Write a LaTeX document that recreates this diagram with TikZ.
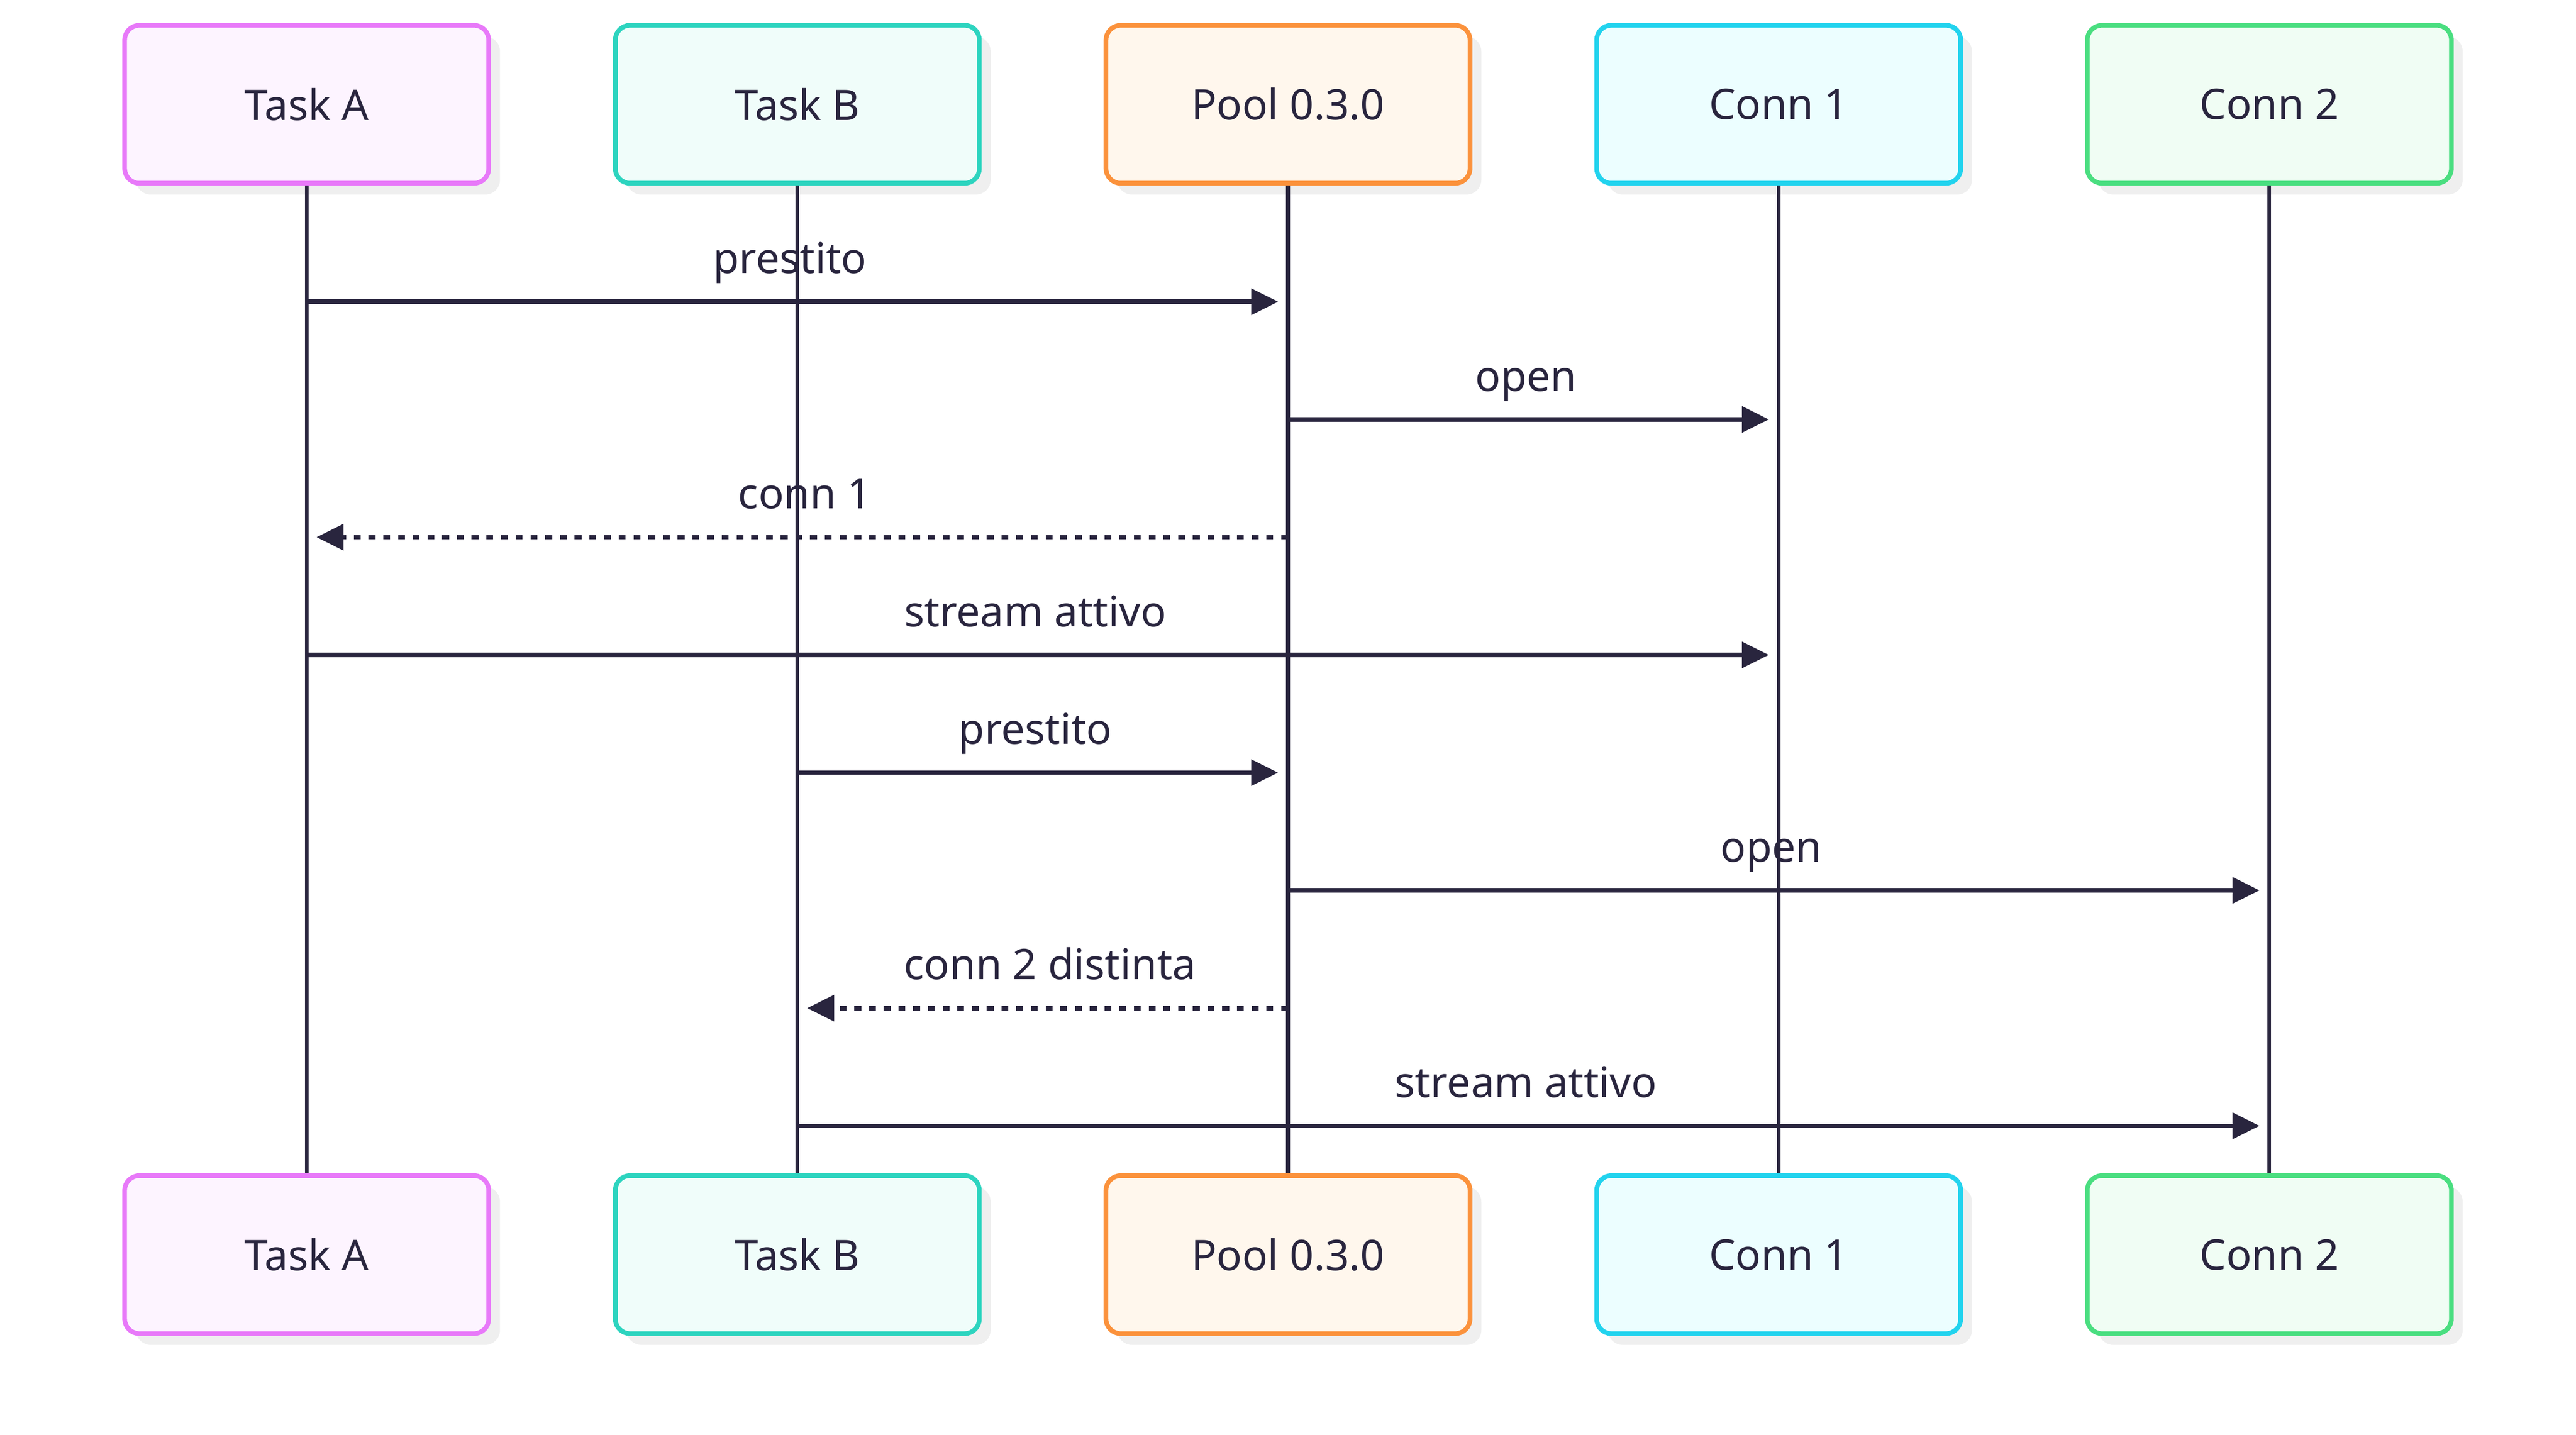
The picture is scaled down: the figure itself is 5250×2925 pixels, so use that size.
\documentclass[tikz,border=0pt]{standalone}
\usepackage{fontspec}
\setmainfont{Noto Sans}
\usetikzlibrary{arrows.meta,calc,shadows}
\definecolor{ink}{RGB}{41,37,62}
\definecolor{shadowgray}{RGB}{239,239,239}
\definecolor{aStroke}{HTML}{E879F9}\definecolor{aFill}{HTML}{FDF4FF}
\definecolor{bStroke}{HTML}{2DD4BF}\definecolor{bFill}{HTML}{F0FDFA}
\definecolor{pStroke}{HTML}{FB923C}\definecolor{pFill}{HTML}{FFF7ED}
\definecolor{cStroke}{HTML}{22D3EE}\definecolor{cFill}{HTML}{ECFEFF}
\definecolor{dStroke}{HTML}{4ADE80}\definecolor{dFill}{HTML}{F0FDF4}
\tikzset{
  txt/.style={text=ink, font=\fontsize{8.6}{10}\selectfont},
  actorbox/.style={txt, draw, rounded corners=3pt, line width=0.95pt,
    minimum width=74.2pt, minimum height=32.2pt, inner sep=0pt,
    drop shadow={shadow xshift=2.3pt, shadow yshift=-2.3pt, fill=shadowgray, opacity=1}},
  lifeline/.style={draw=ink, line width=0.75pt},
  msg/.style={draw=ink, line width=0.9pt, -{Triangle[length=5.5pt,width=5.2pt]}, shorten >=2pt},
  reply/.style={msg, dash pattern=on 1.4pt off 1.6pt},
  lbl/.style={txt, anchor=base, inner sep=0pt}
}
\begin{document}
\begin{tikzpicture}[x=0.1pt,y=-0.1pt]
\useasboundingbox (0,0) rectangle (5250,2925);
% message rows
\coordinate (y1) at (0,615);
\coordinate (y2) at (0,855);
\coordinate (y3) at (0,1095);
\coordinate (y4) at (0,1335);
\coordinate (y5) at (0,1575);
\coordinate (y6) at (0,1815);
\coordinate (y7) at (0,2055);
\coordinate (y8) at (0,2295);
% participant boxes
\node[actorbox, draw=aStroke, fill=aFill] (taT) at (625,212.5) {Task A};
\node[actorbox, draw=bStroke, fill=bFill] (tbT) at (1625,212.5) {Task B};
\node[actorbox, draw=pStroke, fill=pFill] (plT) at (2625,212.5) {Pool 0.3.0};
\node[actorbox, draw=cStroke, fill=cFill] (c1T) at (3625,212.5) {Conn 1};
\node[actorbox, draw=dStroke, fill=dFill] (c2T) at (4625,212.5) {Conn 2};
\node[actorbox, draw=aStroke, fill=aFill] (taB) at (625,2557.5) {Task A};
\node[actorbox, draw=bStroke, fill=bFill] (tbB) at (1625,2557.5) {Task B};
\node[actorbox, draw=pStroke, fill=pFill] (plB) at (2625,2557.5) {Pool 0.3.0};
\node[actorbox, draw=cStroke, fill=cFill] (c1B) at (3625,2557.5) {Conn 1};
\node[actorbox, draw=dStroke, fill=dFill] (c2B) at (4625,2557.5) {Conn 2};
% messages
\draw[msg] (taT |- y1) -- (plT |- y1);
\node[lbl] (l1) at ($(taT |- y1)!0.5!(plT |- y1) + (-15,-58)$) {prestito};
\draw[msg] (plT |- y2) -- (c1T |- y2);
\node[lbl] (l2) at ($(plT |- y2)!0.5!(c1T |- y2) + (-15,-58)$) {open};
\draw[reply] (plT |- y3) -- (taT |- y3);
\node[lbl] (l3) at ($(plT |- y3)!0.5!(taT |- y3) + (15,-58)$) {conn 1};
\draw[msg] (taT |- y4) -- (c1T |- y4);
\node[lbl] (l4) at ($(taT |- y4)!0.5!(c1T |- y4) + (-15,-58)$) {stream attivo};
\draw[msg] (tbT |- y5) -- (plT |- y5);
\node[lbl] (l5) at ($(tbT |- y5)!0.5!(plT |- y5) + (-15,-58)$) {prestito};
\draw[msg] (plT |- y6) -- (c2T |- y6);
\node[lbl] (l6) at ($(plT |- y6)!0.5!(c2T |- y6) + (-15,-58)$) {open};
\draw[reply] (plT |- y7) -- (tbT |- y7);
\node[lbl] (l7) at ($(plT |- y7)!0.5!(tbT |- y7) + (15,-58)$) {conn 2 distinta};
\draw[msg] (tbT |- y8) -- (c2T |- y8);
\node[lbl] (l8) at ($(tbT |- y8)!0.5!(c2T |- y8) + (-15,-58)$) {stream attivo};
% lifelines (drawn over the shadows, as in the reference)
\draw[lifeline] (taT.south) -- (taB.north);
\draw[lifeline] (tbT.south) -- (tbB.north);
\draw[lifeline] (plT.south) -- (plB.north);
\draw[lifeline] (c1T.south) -- (c1B.north);
\draw[lifeline] (c2T.south) -- (c2B.north);
\end{tikzpicture}
\end{document}
